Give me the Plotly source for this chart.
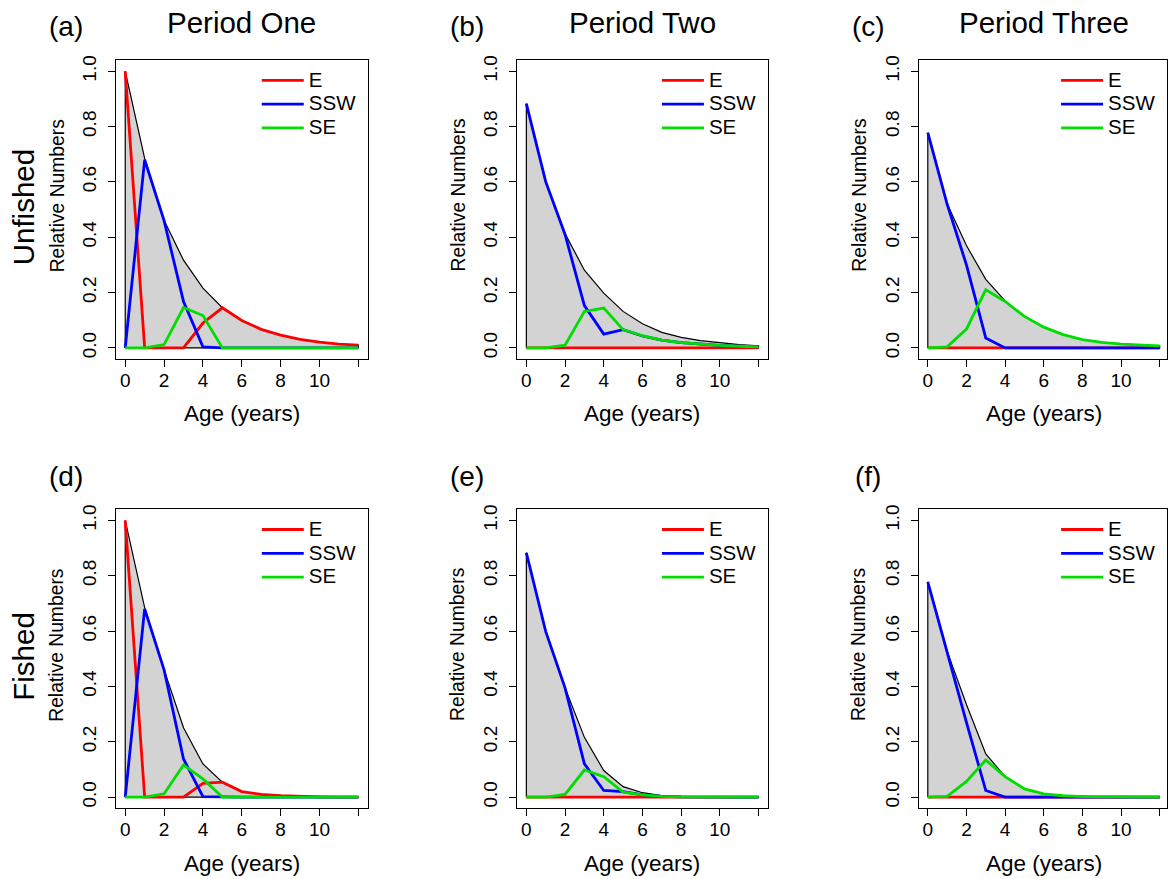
import plotly.graph_objects as go

ages = list(range(13))
x_tickvals = [0, 2, 4, 6, 8, 10, 12]
x_ticktext = ["0", "2", "4", "6", "8", "10", ""]
y_tickvals = [0.0, 0.2, 0.4, 0.6, 0.8, 1.0]
y_ticktext = ["0.0", "0.2", "0.4", "0.6", "0.8", "1.0"]
series_names = ["E", "SSW", "SE"]
panel_labels = ["(a)", "(b)", "(c)", "(d)", "(e)", "(f)"]
col_titles = ["Period One", "Period Two", "Period Three"]
row_titles = ["Unfished", "Fished"]

# (a) Unfished, Period One
total_a = [1.0, 0.685, 0.461, 0.317, 0.216, 0.145, 0.099, 0.067, 0.046, 0.031, 0.021, 0.014, 0.010]
E_a = [1.0, 0, 0, 0, 0.09, 0.145, 0.099, 0.067, 0.046, 0.031, 0.021, 0.014, 0.010]
SSW_a = [0, 0.68, 0.46, 0.168, 0.004, 0, 0, 0, 0, 0, 0, 0, 0]
SE_a = [0, 0, 0.012, 0.146, 0.117, 0, 0, 0, 0, 0, 0, 0, 0]

# (b) Unfished, Period Two
total_b = [0.883, 0.601, 0.413, 0.281, 0.198, 0.132, 0.087, 0.056, 0.038, 0.026, 0.018, 0.012, 0.008]
E_b = [0, 0, 0, 0, 0, 0, 0, 0, 0, 0, 0, 0, 0]
SSW_b = [0.883, 0.601, 0.41, 0.153, 0.05, 0.066, 0.043, 0.028, 0.019, 0.013, 0.009, 0.006, 0.004]
SE_b = [0, 0, 0.01, 0.132, 0.144, 0.066, 0.044, 0.028, 0.019, 0.013, 0.009, 0.006, 0.004]

# (c) Unfished, Period Three
total_c = [0.778, 0.521, 0.37, 0.248, 0.170, 0.114, 0.075, 0.048, 0.030, 0.020, 0.014, 0.010, 0.007]
E_c = [0, 0, 0, 0, 0, 0, 0, 0, 0, 0, 0, 0, 0]
SSW_c = [0.778, 0.52, 0.30, 0.036, 0, 0, 0, 0, 0, 0, 0, 0, 0]
SE_c = [0, 0.004, 0.068, 0.21, 0.168, 0.114, 0.075, 0.048, 0.030, 0.020, 0.014, 0.010, 0.007]

# (d) Fished, Period One
total_d = [1.0, 0.685, 0.461, 0.251, 0.12, 0.054, 0.02, 0.01, 0.005, 0.002, 0.001, 0, 0]
E_d = [1.0, 0, 0, 0, 0.05, 0.054, 0.02, 0.01, 0.005, 0.002, 0.001, 0, 0]
SSW_d = [0, 0.68, 0.46, 0.138, 0.002, 0, 0, 0, 0, 0, 0, 0, 0]
SE_d = [0, 0, 0.012, 0.116, 0.066, 0, 0, 0, 0, 0, 0, 0, 0]

# (e) Fished, Period Two
total_e = [0.883, 0.599, 0.395, 0.216, 0.096, 0.038, 0.016, 0.006, 0.002, 0.001, 0, 0, 0]
E_e = [0, 0, 0, 0, 0, 0, 0, 0, 0, 0, 0, 0, 0]
SSW_e = [0.883, 0.599, 0.395, 0.12, 0.024, 0.02, 0.008, 0.003, 0.001, 0, 0, 0, 0]
SE_e = [0, 0, 0.01, 0.098, 0.074, 0.018, 0.008, 0.003, 0.001, 0, 0, 0, 0]

# (f) Fished, Period Three
total_f = [0.778, 0.527, 0.335, 0.156, 0.074, 0.03, 0.012, 0.005, 0.002, 0.001, 0, 0, 0]
E_f = [0, 0, 0, 0, 0, 0, 0, 0, 0, 0, 0, 0, 0]
SSW_f = [0.778, 0.52, 0.27, 0.024, 0, 0, 0, 0, 0, 0, 0, 0, 0]
SE_f = [0, 0.003, 0.057, 0.134, 0.074, 0.03, 0.012, 0.005, 0.002, 0.001, 0, 0, 0]

panels = [
    (total_a, E_a, SSW_a, SE_a),
    (total_b, E_b, SSW_b, SE_b),
    (total_c, E_c, SSW_c, SE_c),
    (total_d, E_d, SSW_d, SE_d),
    (total_e, E_e, SSW_e, SE_e),
    (total_f, E_f, SSW_f, SE_f),
]

W, H = 1168, 879
FONT = "Liberation Sans, Arial, sans-serif"
colors = ["#FF0000", "#0000FF", "#00DD00"]


def fx(px):
    return px / W


def fy(py):
    return 1 - py / H


# pixel boxes of each plot region
col_box = [(116, 368), (517.5, 768.5), (919.3, 1168)]
row_box = [(55.5, 356), (507.2, 807.8)]
x_ranges = [[-0.48, 12.48], [-0.48, 12.48], [-0.48, 12.377]]

fig = go.Figure()
layout = dict(
    width=W, height=H,
    margin=dict(l=0, r=0, t=0, b=0),
    paper_bgcolor="white", plot_bgcolor="white",
    font=dict(family=FONT, color="black", size=19),
    showlegend=True,
)
annotations = []

for i, (tot, e, ssw, se) in enumerate(panels):
    r, c = divmod(i, 3)
    n = i + 1
    xa = "x" if n == 1 else f"x{n}"
    ya = "y" if n == 1 else f"y{n}"
    leg = "legend" if n == 1 else f"legend{n}"
    # grey polygon for total
    fig.add_trace(go.Scatter(
        x=[ages[0]] + ages + [ages[-1], ages[0]],
        y=[0] + tot + [0, 0],
        mode="lines", fill="toself", fillcolor="#D3D3D3",
        line=dict(color="black", width=1.2),
        xaxis=xa, yaxis=ya, showlegend=False, hoverinfo="skip",
    ))
    for name, vals, col in zip(series_names, (e, ssw, se), colors):
        fig.add_trace(go.Scatter(
            x=ages, y=vals, mode="lines",
            name=f'<span style="font-size:20.5px">{name}</span>',
            line=dict(color=col, width=2.8),
            xaxis=xa, yaxis=ya, legend=leg, showlegend=True,
        ))
    x0, x1 = col_box[c]
    y0, y1 = row_box[r]
    axis_common = dict(
        showgrid=False, zeroline=False, showline=True, mirror=True,
        linecolor="black", linewidth=1, ticks="outside", ticklen=7,
        tickwidth=1, tickcolor="black", tickfont=dict(size=19, family=FONT),
    )
    layout["xaxis" if n == 1 else f"xaxis{n}"] = dict(
        domain=[fx(x0), fx(x1)], range=x_ranges[c], anchor=ya,
        tickvals=x_tickvals, ticktext=x_ticktext, ticklabelstandoff=-3,
        **axis_common,
    )
    layout["yaxis" if n == 1 else f"yaxis{n}"] = dict(
        domain=[fy(y1), fy(y0)], range=[-0.04, 1.04], anchor=xa,
        tickvals=y_tickvals, ticktext=y_ticktext, tickangle=-90,
        ticklabelstandoff=4, **axis_common,
    )
    layout[leg] = dict(
        x=fx(x1 - 91 - 15 - 5), y=fy(y0 + 3.3), xanchor="left", yanchor="top",
        bgcolor="rgba(0,0,0,0)", borderwidth=0, itemwidth=42,
        font=dict(size=16, family=FONT), tracegroupgap=0,
    )
    # panel letter
    annotations.append(dict(
        text=panel_labels[i], x=fx(66 + 401.5 * c), y=fy(22 + 452 * r),
        xref="paper", yref="paper", xanchor="center", yanchor="middle",
        showarrow=False, font=dict(size=28, family=FONT),
    ))
    # axis titles
    annotations.append(dict(
        text="Age (years)", x=fx((x0 + (x1 if c < 2 else 1170)) / 2),
        y=fy(411 + 452 * r), xref="paper", yref="paper",
        xanchor="center", yanchor="middle", showarrow=False,
        font=dict(size=22.5, family=FONT),
    ))
    annotations.append(dict(
        text="Relative Numbers", x=fx(57 + 401.5 * c), y=fy(191.5 + 452 * r),
        xref="paper", yref="paper", xanchor="center", yanchor="middle",
        textangle=-90, showarrow=False, font=dict(size=19.3, family=FONT),
    ))

for c, t in enumerate(col_titles):
    x0, x1 = col_box[c]
    xc = (x0 + (x1 if c < 2 else 1170)) / 2
    annotations.append(dict(
        text=t, x=fx(xc), y=fy(18), xref="paper", yref="paper",
        xanchor="center", yanchor="middle", showarrow=False,
        font=dict(size=29.5, family=FONT),
    ))
for r, t in enumerate(row_titles):
    annotations.append(dict(
        text=t, x=fx(23.5), y=fy(203 + 452 * r), xref="paper", yref="paper",
        xanchor="center", yanchor="middle", textangle=-90, showarrow=False,
        font=dict(size=29.5, family=FONT),
    ))

layout["annotations"] = annotations
fig.update_layout(**layout)
fig.write_html("out.html")
